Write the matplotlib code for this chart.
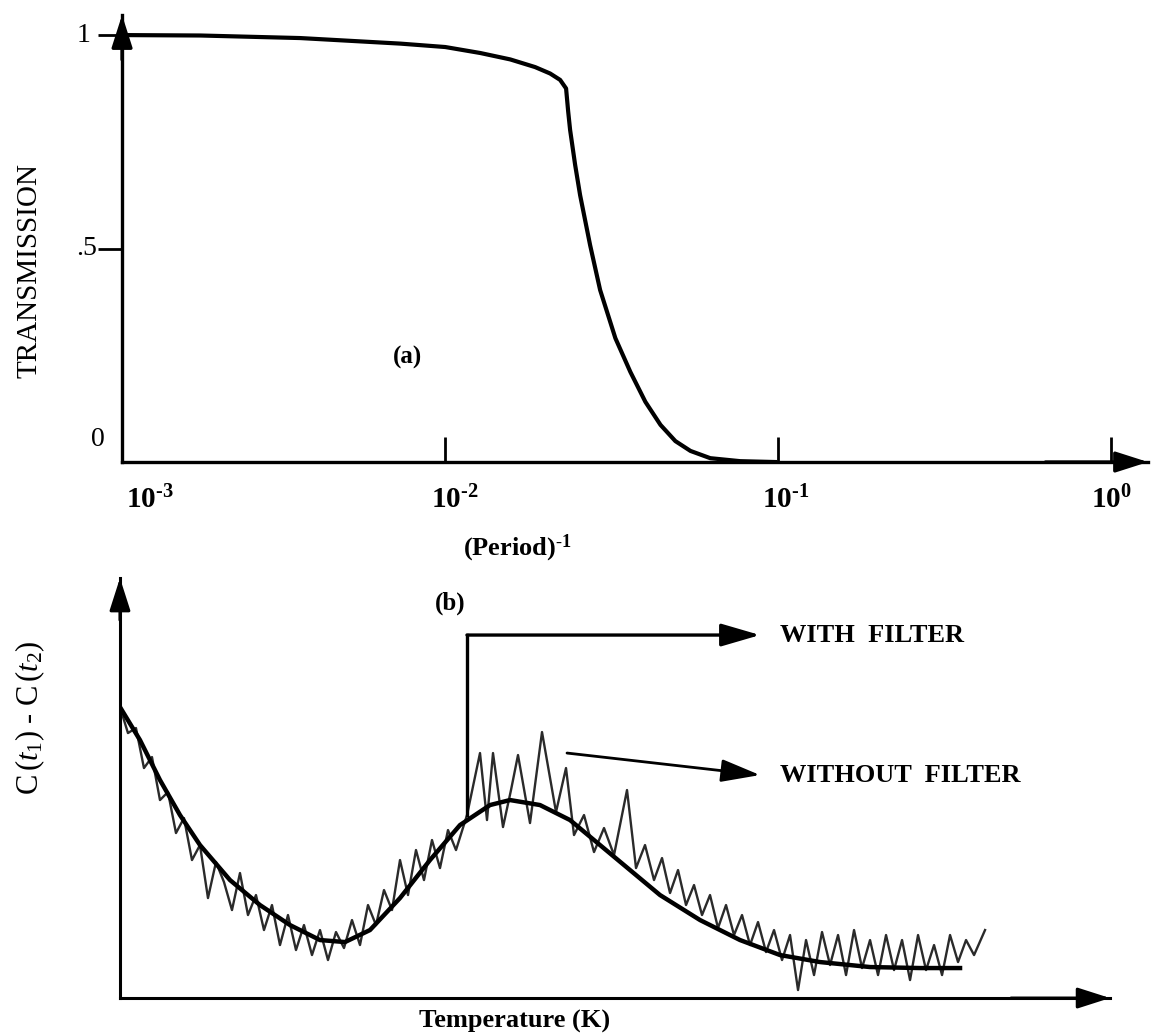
import matplotlib
matplotlib.use('Agg')
import matplotlib.pyplot as plt
import matplotlib.transforms as mtransforms

plt.rcParams['font.family'] = ['Liberation Serif', 'DejaVu Serif']
plt.rcParams['mathtext.fontset'] = 'custom'
plt.rcParams['mathtext.rm'] = 'Liberation Serif'
plt.rcParams['mathtext.it'] = 'Liberation Serif:italic'
plt.rcParams['mathtext.bf'] = 'Liberation Serif:bold'

# (a) filter transmission vs inverse period
inv_period = [1.07e-3, 1.84e-3, 3.67e-3, 7.33e-3, 1.0e-2, 1.274e-2, 1.567e-2, 1.862e-2,
              2.065e-2, 2.213e-2, 2.306e-2, 2.339e-2, 2.371e-2, 2.455e-2, 2.541e-2,
              2.723e-2, 2.918e-2, 3.243e-2, 3.597e-2, 3.99e-2, 4.43e-2, 4.91e-2,
              5.45e-2, 6.25e-2, 7.69e-2, 9.8e-2]
transmission = [1.0, 0.999, 0.993, 0.980, 0.972, 0.958, 0.943, 0.925,
                0.910, 0.895, 0.875, 0.822, 0.778, 0.696, 0.625,
                0.508, 0.403, 0.290, 0.211, 0.141, 0.087, 0.049,
                0.026, 0.009, 0.002, 0.0]
a_ticks = [1e-2, 1e-1, 1.0]
a_tick_labels = [r'$\mathbf{10^{\text{-}3}}$', r'$\mathbf{10^{\text{-}2}}$',
                 r'$\mathbf{10^{\text{-}1}}$', r'$\mathbf{10^{0}}$']
a_label_pos = [1.3e-3, 1.07e-2, 1.05e-1, 1.0]

# (b) signal vs temperature (arbitrary units)
temp_filt = [0, 2, 4, 6, 8, 11, 14, 17, 20, 22.5, 25, 28, 31, 34, 37, 39, 42, 45,
             48, 51, 54, 58, 62, 66, 70, 75, 80, 84]
sig_filt = [29.1, 25.8, 21.8, 18.3, 15.3, 11.8, 9.3, 7.3, 5.8, 5.6, 6.8, 10.0, 13.8,
            17.3, 19.3, 19.8, 19.3, 17.8, 15.3, 12.8, 10.3, 7.8, 5.8, 4.3, 3.6, 3.1, 3.0, 3.0]

temp_raw = [0, 0.8, 1.6, 2.4, 3.2, 4.0, 4.8, 5.6, 6.4, 7.2,
            8.0, 8.8, 9.6, 10.4, 11.2, 12.0, 12.8, 13.6, 14.4, 15.2,
            16.0, 16.8, 17.6, 18.4, 19.2, 20.0, 20.8, 21.6, 22.4, 23.2,
            24.0, 24.8, 25.6, 26.4, 27.2, 28.0, 28.8, 29.6, 30.4, 31.2,
            32.0, 32.8, 33.6, 34.7,
            36.0, 36.7, 37.3, 38.3, 39.1, 39.8, 41.0, 42.2, 43.6, 44.6,
            45.4, 46.4, 47.4, 48.4, 49.4, 50.7,
            51.6, 52.5, 53.4, 54.2, 55.0, 55.8, 56.6, 57.4, 58.2, 59.0,
            59.8, 60.6, 61.4, 62.2, 63.0, 63.8, 64.6, 65.4, 66.2, 67.0,
            67.8, 68.6, 69.4, 70.2, 71.0, 71.8, 72.6, 73.4, 74.2, 75.0,
            75.8, 76.6, 77.4, 78.2, 79.0, 79.8, 80.6, 81.4, 82.2, 83.0,
            83.8, 84.6, 85.4, 86.5]
sig_raw = [29.1, 26.5, 27.0, 23.0, 24.1, 19.8, 20.6, 16.5, 18.0, 13.8,
           15.3, 10.0, 13.6, 11.6, 8.8, 12.5, 8.3, 10.3, 6.8, 9.3,
           5.3, 8.3, 4.8, 7.3, 4.3, 6.8, 3.8, 6.6, 5.0, 7.8,
           5.3, 9.3, 7.3, 10.8, 8.8, 13.8, 10.3, 14.8, 11.8, 15.8,
           13.0, 16.8, 14.8, 18.3,
           24.5, 17.8, 24.5, 17.1, 20.8, 24.3, 17.5, 26.6, 18.6, 23.0,
           16.3, 18.3, 14.6, 17.0, 14.3, 20.8,
           13.0, 15.3, 11.8, 14.0, 10.5, 12.8, 9.3, 11.3, 8.3, 10.3,
           7.0, 9.3, 6.3, 8.3, 5.3, 7.6, 4.6, 6.8, 3.8, 6.3,
           0.8, 5.8, 2.3, 6.6, 3.3, 6.3, 2.3, 6.8, 3.0, 5.8,
           2.3, 6.3, 2.8, 5.8, 1.8, 6.3, 2.8, 5.3, 2.3, 6.3,
           3.6, 5.8, 4.3, 6.8]

fig = plt.figure(figsize=(11.58, 10.35), dpi=100)


def arrow_axes(ax, lw):
    head = dict(arrowstyle='-|>,head_length=1.0,head_width=0.32', color='k', lw=lw,
                shrinkA=0, shrinkB=0, mutation_scale=20)
    ax.annotate('', xy=(1, 0), xytext=(0.9, 0), xycoords='axes fraction', arrowprops=head,
                annotation_clip=False)
    ax.annotate('', xy=(0, 1), xytext=(0, 0.9), xycoords='axes fraction', arrowprops=head,
                annotation_clip=False)
    for s in ['top', 'right']:
        ax.spines[s].set_visible(False)
    for s in ['left', 'bottom']:
        ax.spines[s].set_linewidth(lw)


# ---- panel (a)
ax1 = fig.add_axes([0.1054, 0.5536, 0.886, 0.4319])
ax1.plot(inv_period, transmission, color='k', lw=3, solid_joinstyle='round')
ax1.set_xscale('log')
ax1.set_xlim(1.07e-3, 1.29)
ax1.set_ylim(0, 1.047)
arrow_axes(ax1, 2.4)
ax1.set_xticks(a_ticks)
ax1.xaxis.set_minor_locator(matplotlib.ticker.NullLocator())
ax1.tick_params(axis='x', direction='in', length=18, width=2, labelbottom=False)
ax1.set_yticks([0.5, 1.0])
ax1.tick_params(axis='y', direction='out', length=17, width=2, labelleft=False)
tr = mtransforms.blended_transform_factory(ax1.transData, ax1.transAxes)
for xp, lab in zip(a_label_pos, a_tick_labels):
    ax1.text(xp, -0.085, lab, transform=tr, ha='center', va='center', fontsize=21)
tr_y = mtransforms.blended_transform_factory(ax1.transAxes, ax1.transData)
for yp, lab, xo in [(1.0, '1', -0.038), (0.5, '.5', -0.035), (0.052, '0', -0.024)]:
    ax1.text(xo, yp, lab, transform=tr_y, ha='center', va='center', fontsize=20)
ax1.text(7.7e-3, 0.246, '(a)', ha='center', va='center', fontsize=18, fontweight='bold')

fig.text(30 / 1158, 1 - 270 / 1035, 'TRANSMISSION', rotation=90, ha='center', va='center',
         fontsize=21)
fig.text(517 / 1158, 1 - 548 / 1035, r'$\mathbf{(Period)^{\text{-}1}}$', ha='center',
         va='center', fontsize=19)

# ---- panel (b)
ax2 = fig.add_axes([0.1036, 0.0357, 0.855, 0.4058])
ax2.plot(temp_raw, sig_raw, color='#2a2a2a', lw=1.7)
ax2.plot(temp_filt, sig_filt, color='k', lw=3.2)
ax2.set_xlim(0, 99)
ax2.set_ylim(0, 42)
arrow_axes(ax2, 2.2)
ax2.set_xticks([])
ax2.set_yticks([])

head2 = dict(arrowstyle='-|>,head_length=1.2,head_width=0.35', color='k', lw=2.4,
             shrinkA=0, shrinkB=0, mutation_scale=20)
ax2.plot([34.7, 34.7], [18.3, 36.3], color='k', lw=2.4, solid_capstyle='projecting')
ax2.annotate('', xy=(64, 36.3), xytext=(34.7, 36.3), arrowprops=head2)
ax2.annotate('', xy=(64, 22.3), xytext=(44.7, 24.5),
             arrowprops=dict(head2, lw=2.0))
ax2.text(66, 36.3, 'WITH  FILTER', ha='left', va='center', fontsize=19, fontweight='bold')
ax2.text(66, 22.3, 'WITHOUT  FILTER', ha='left', va='center', fontsize=19, fontweight='bold')
ax2.text(33, 39.5, '(b)', ha='center', va='center', fontsize=18, fontweight='bold')

fig.text(30 / 1158, 1 - 718 / 1035, r'C$\,($$\mathit{t}_1$$)$ - C$\,($$\mathit{t}_2$$)$',
         rotation=90, ha='center', va='center', fontsize=22)
fig.text(515 / 1158, 1 - 1021 / 1035, 'Temperature (K)', ha='center', va='center',
         fontsize=19, fontweight='bold')

fig.savefig('out.png', dpi=100)
